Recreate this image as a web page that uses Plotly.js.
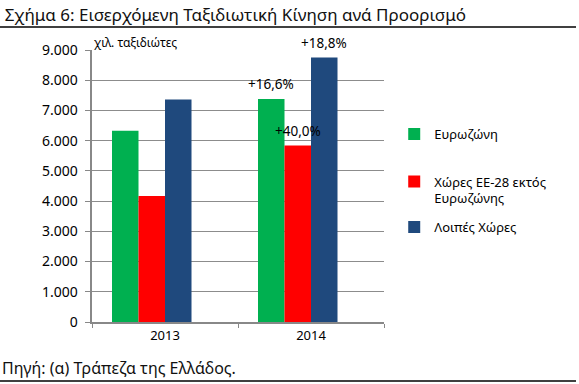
<!DOCTYPE html>
<html>
<head>
<meta charset="utf-8">
<script src="https://cdn.plot.ly/plotly-3.0.1.min.js"></script>
<style>html,body{margin:0;padding:0;background:#fff;}#chart{width:579px;height:384px;}</style>
</head>
<body>
<div id="chart"></div>
<script>
const years = ['2013', '2014'];
const seriesNames = ['Ευρωζώνη', 'Χώρες ΕΕ-28 εκτός<br>Ευρωζώνης', 'Λοιπές Χώρες'];
const eurozone = [6330, 7380];
const eu28NonEuro = [4170, 5840];
const otherCountries = [7360, 8750];
const changeLabels = [['', '+16,6%'], ['', '+40,0%'], ['', '+18,8%']];
const yTicks = [0, 1000, 2000, 3000, 4000, 5000, 6000, 7000, 8000, 9000];
const colors = ['#00B050', '#FF0000', '#1F497D'];

const values = [eurozone, eu28NonEuro, otherCountries];
const legends = ['legend', 'legend2', 'legend3'];
const font = 'Noto Sans, sans-serif';

const traces = values.map((v, i) => ({
  type: 'bar',
  x: years,
  y: v,
  name: seriesNames[i],
  marker: {color: colors[i], line: {width: 0}},
  legend: legends[i],
  hoverinfo: 'y'
}));
// empty fourth slot in each group (as in the original chart)
traces.push({type: 'bar', x: years, y: [0, 0], showlegend: false, hoverinfo: 'skip', marker: {color: 'rgba(0,0,0,0)'}});

// plot width 292 px, 2 categories, bargap 0.274, 4 slots per group
const slotPx = (292 / 2) * (1 - 0.274) / 4;
const labelAnnotations = [];
values.forEach((v, i) => {
  years.forEach((yr, j) => {
    if (changeLabels[i][j]) {
      labelAnnotations.push({
        text: changeLabels[i][j], x: j, y: v[j], xref: 'x', yref: 'y',
        xshift: (i - 1.5) * slotPx, yshift: 15, xanchor: 'center', yanchor: 'middle',
        showarrow: false, font: {family: font, size: 13.5, color: '#000'}
      });
    }
  });
});

const legendBase = {
  font: {family: font, size: 13, color: '#000'},
  bgcolor: 'rgba(0,0,0,0)',
  xanchor: 'left', yanchor: 'middle',
  valign: 'top',
  itemwidth: 30,
  traceorder: 'normal'
};

const layout = {
  width: 579, height: 384,
  margin: {l: 92, r: 195, t: 50, b: 62},
  paper_bgcolor: '#fff', plot_bgcolor: '#fff',
  separators: ',.',
  barmode: 'group',
  bargap: 0.274,
  bargroupgap: 0,
  font: {family: font, color: '#000'},
  title: {text: 'Σχήμα 6: Εισερχόμενη Ταξιδιωτική Κίνηση ανά Προορισμό',
          font: {family: font, size: 17, color: '#111'},
          x: 0.008, xanchor: 'left', xref: 'container', y: 0.962, yanchor: 'middle', yref: 'container'},
  xaxis: {
    type: 'category',
    categoryarray: years,
    range: [-0.5, years.length - 0.5],
    tickson: 'boundaries',
    ticks: 'outside', ticklen: 4, tickcolor: '#888', tickwidth: 1,
    showline: true, linecolor: '#888', linewidth: 2,
    showgrid: false,
    tickfont: {family: font, size: 13, color: '#000'},
    fixedrange: true
  },
  yaxis: {
    range: [0, 9000],
    tickvals: yTicks,
    tickformat: ',d',
    ticks: 'outside', ticklen: 5, tickcolor: '#888', tickwidth: 1,
    ticklabelstandoff: 4,
    showline: true, linecolor: '#888', linewidth: 2.5,
    showgrid: true, gridcolor: '#8c8c8c', gridwidth: 1,
    zeroline: false,
    tickfont: {family: font, size: 14, color: '#000'},
    fixedrange: true
  },
  legend: Object.assign({}, legendBase, {x: 1.035, y: (322 - 134) / 272}),
  legend2: Object.assign({}, legendBase, {x: 1.035, y: (322 - 190) / 272}),
  legend3: Object.assign({}, legendBase, {x: 1.035, y: (322 - 227) / 272}),
  annotations: [
    {text: 'χιλ. ταξιδιώτες', xref: 'paper', yref: 'paper', x: 0.0, y: (322 - 42) / 272,
     xanchor: 'left', yanchor: 'middle', showarrow: false, font: {family: font, size: 12, color: '#000'}},
    {text: 'Πηγή: (α) Τράπεζα της Ελλάδος.', xref: 'paper', yref: 'paper', x: (0 - 92) / 292, y: (322 - 368) / 272,
     xanchor: 'left', yanchor: 'middle', showarrow: false, font: {family: font, size: 16, color: '#111'}}
  ].concat(labelAnnotations),
  shapes: [
    {type: 'line', xref: 'paper', yref: 'paper', x0: (0 - 92) / 292, x1: (576 - 92) / 292,
     y0: (322 - 27) / 272, y1: (322 - 27) / 272, line: {color: '#000', width: 1.5}},
    {type: 'line', xref: 'paper', yref: 'paper', x0: (0 - 92) / 292, x1: (576 - 92) / 292,
     y0: (322 - 381) / 272, y1: (322 - 381) / 272, line: {color: '#000', width: 1.5}}
  ]
};

Plotly.newPlot('chart', traces, layout, {displayModeBar: false, staticPlot: true});
</script>
</body>
</html>
